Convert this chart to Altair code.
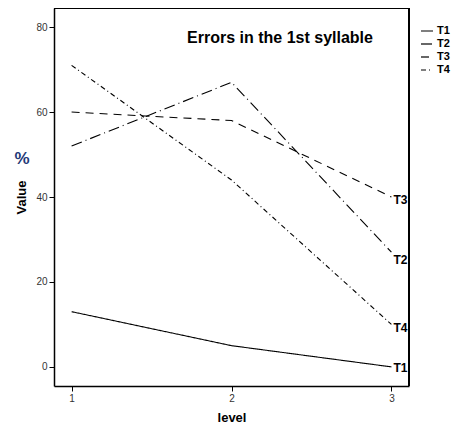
import altair as alt
import pandas as pd

levels = [1, 2, 3]
series = ["T1", "T2", "T3", "T4"]
t1 = [13, 5, 0]
t2 = [52, 67, 27]
t3 = [60, 58, 40]
t4 = [71, 44, 10]
end_label_y = [-0.3, 25.2, 39.3, 9.2]
dash_styles = [[1, 0], [11, 4, 1, 4], [8, 6], [5, 3, 1, 3]]
y_ticks = [0, 20, 40, 60, 80]
title_text = "Errors in the 1st syllable"

vals = {"T1": t1, "T2": t2, "T3": t3, "T4": t4}
rows = [{"level": lv, "value": v, "series": s} for s in series for lv, v in zip(levels, vals[s])]
df = pd.DataFrame(rows)
lab = pd.DataFrame({"series": series, "level": [levels[-1]] * 4, "ly": end_label_y})

W, H = 355, 378
FONT = "Liberation Sans, Arial, sans-serif"

xs = alt.Scale(domain=[0.89, 3.11], nice=False, zero=False)
ys = alt.Scale(domain=[-4.5, 84.5], nice=False, zero=False)

lines = alt.Chart(df).mark_line(color="black", strokeWidth=1.1).encode(
    x=alt.X("level:Q", scale=xs, axis=alt.Axis(values=levels, format="d", title="level",
            tickSize=5, labelPadding=2, titlePadding=8, titleFontSize=13, titleFontWeight="bold")),
    y=alt.Y("value:Q", scale=ys, axis=alt.Axis(values=y_ticks, format="d", title="Value",
            tickSize=5, labelPadding=2, titlePadding=7, titleFontSize=13, titleFontWeight="bold")),
    strokeDash=alt.StrokeDash("series:N", scale=alt.Scale(domain=series, range=dash_styles),
        legend=alt.Legend(title=None, orient="none", legendX=366, legendY=16, symbolType="stroke",
                          symbolSize=144, symbolStrokeWidth=1.2, symbolStrokeColor="black",
                          labelFontSize=11, labelFontWeight="bold", labelColor="black",
                          labelFont=FONT, rowPadding=1, padding=0, labelOffset=3)),
    detail="series:N",
)

top_rule = alt.Chart(df).mark_rule(color="black", strokeWidth=1.5).encode(
    x=alt.value(0), x2=alt.value(W), y=alt.value(0))
right_rule = alt.Chart(df).mark_rule(color="black", strokeWidth=1.5).encode(
    x=alt.value(W), y=alt.value(0), y2=alt.value(H))

boxes = alt.Chart(lab).mark_point(shape="square", filled=True, color="white", opacity=1,
                                  size=230, xOffset=9).encode(
    x=alt.X("level:Q", scale=xs), y=alt.Y("ly:Q", scale=ys))
texts = alt.Chart(lab).mark_text(font=FONT, fontSize=12, fontWeight="bold", color="black",
                                 dx=9, align="center", baseline="middle").encode(
    x=alt.X("level:Q", scale=xs), y=alt.Y("ly:Q", scale=ys), text="series:N")

title = alt.Chart(pd.DataFrame({"t": [title_text]})).mark_text(
    font=FONT, fontSize=16, fontWeight="bold", color="black", align="center", baseline="middle"
).encode(x=alt.value(226), y=alt.value(30), text="t:N")

pct = alt.Chart(pd.DataFrame({"t": ["%"]})).mark_text(
    font=FONT, fontSize=17, fontWeight="bold", color="#1f3a78", align="center", baseline="middle"
).encode(x=alt.value(-32), y=alt.value(151), text="t:N")

chart = alt.layer(lines, top_rule, right_rule, boxes, texts, title, pct).properties(
    width=W, height=H,
    autosize=alt.AutoSizeParams(type="none"),
    padding={"left": 46, "top": 0, "right": 42, "bottom": 39},
).configure_view(stroke=None).configure_axis(
    domainColor="black", domainWidth=1.5, tickColor="black", tickWidth=1,
    labelFont=FONT, labelFontSize=10, labelColor="#333333", titleFont=FONT, titleColor="black",
    grid=False,
)

chart.save("out.html", embed_options={"renderer": "svg", "actions": False})
